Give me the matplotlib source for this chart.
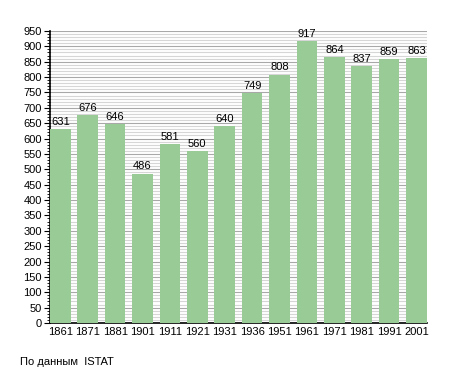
import matplotlib.pyplot as plt
import numpy as np

plt.rcParams['font.family'] = ['Liberation Sans', 'DejaVu Sans']

years = ['1861', '1871', '1881', '1901', '1911', '1921', '1931',
         '1936', '1951', '1961', '1971', '1981', '1991', '2001']
population = [631, 676, 646, 486, 581, 560, 640, 749, 808, 917, 864, 837, 859, 863]

fig = plt.figure(figsize=(4.55, 3.73), dpi=100)
ax = fig.add_axes([0.110, 0.134, 0.828, 0.783])

x = np.arange(len(years))
w = 0.75
ax.bar(x, population, width=w, color='#98cb95', zorder=3)
for xi, v in zip(x, population):
    ax.text(xi, v + 7, str(v), ha='center', va='bottom', fontsize=8, zorder=4)

ax.set_xlim(-w / 2, len(years) - 1 + w / 2)
ax.set_ylim(0, 950)
ax.set_yticks(np.arange(0, 951, 50))
ax.set_yticks(np.arange(0, 951, 10), minor=True)
ax.set_xticks(x)
ax.set_xticklabels(years)

ax.grid(axis='y', which='minor', color='#d6d6d6', lw=0.8, zorder=0)
ax.grid(axis='y', which='major', color='#a8a8a8', lw=0.8, zorder=1)

for s in ['top', 'right']:
    ax.spines[s].set_visible(False)
ax.spines['left'].set_linewidth(1.2)
ax.spines['bottom'].set_linewidth(1.2)
ax.tick_params(axis='y', which='major', length=4, width=0.8, labelsize=8, pad=2)
ax.tick_params(axis='y', which='minor', length=2, width=0.6)
ax.tick_params(axis='x', length=0, labelsize=8, pad=3)

fig.text(20 / 455, 1 - 362 / 373, 'По данным  ISTAT', fontsize=8, va='center')

plt.savefig('out.png')
